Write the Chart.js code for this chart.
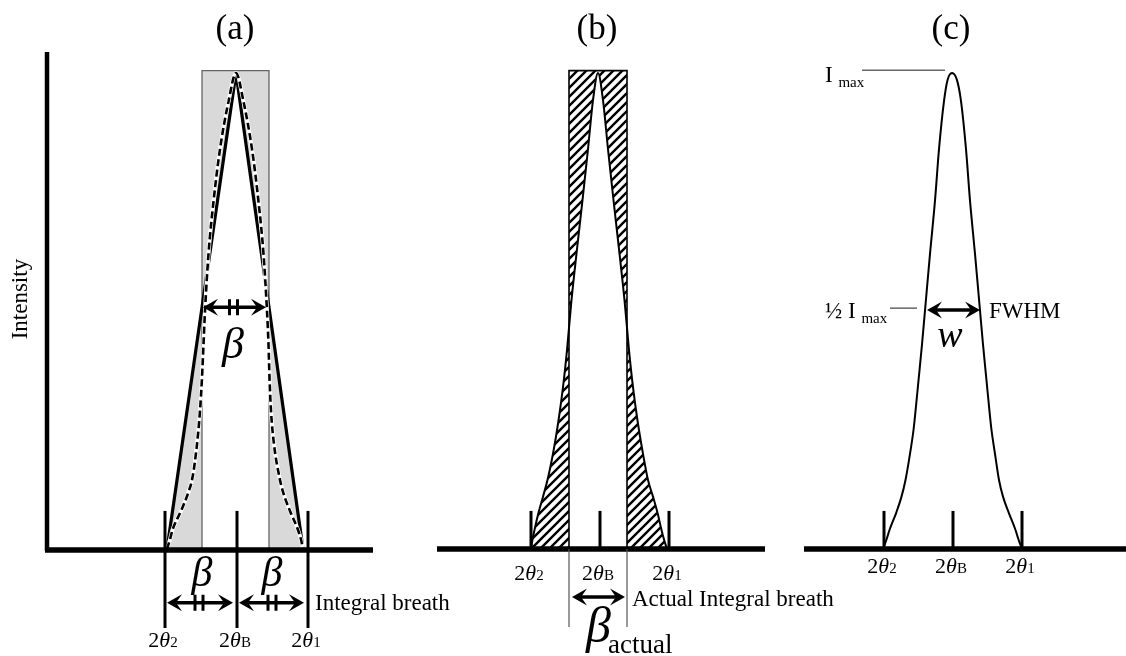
<!DOCTYPE html>
<html>
<head>
<meta charset="utf-8">
<title>Integral breadth</title>
<script src="https://cdn.jsdelivr.net/npm/chart.js@4.4.0/dist/chart.umd.min.js"></script>
<style>
  html, body { margin: 0; padding: 0; background: #fff; }
  #wrap { width: 1126px; height: 656px; }
</style>
</head>
<body>
<div id="wrap"><canvas id="peakChart" width="1126" height="656"></canvas></div>
<script>
// Panel titles and the three 2θ marks under each peak (2θ2, 2θB, 2θ1)
const panelTitles = ['(a)', '(b)', '(c)'];
const tickSubs = ['2', 'B', '1'];

// (a) triangle profile and the dashed bell profile: offset from peak, relative intensity
const triangleOffset = [-69, 0, 67];
const triangleIntensity = [0, 1, 0];
const dashedOffset = [-69, -66, -63.5, -55, -47.5, -43.5, -39, -36, -34, -32.5, -31, -27.5, -22.5, -16, -7.5, 0,
    7.5, 16, 22.5, 27.5, 31, 32.5, 33.5, 35, 38, 43.5, 47, 54, 62, 65, 67];
const dashedIntensity = [0, 0.02, 0.04, 0.08, 0.12, 0.15, 0.22, 0.29, 0.36, 0.43, 0.5, 0.62, 0.73, 0.84, 0.94, 1,
    0.94, 0.84, 0.73, 0.62, 0.5, 0.43, 0.36, 0.29, 0.22, 0.15, 0.12, 0.08, 0.04, 0.02, 0];
const boxA = [-34, 33];

// (b) measured profile and the actual integral breadth box
const profileBOffset = [-67, -65.5, -63.5, -59.5, -55, -50.5, -45, -39.5, -35, -31, -26.5, -21, -15.5, -10, -5, 0,
    5, 10, 15.5, 21, 26.5, 31, 35, 39.5, 45, 50, 55, 59.5, 63.5, 66, 69];
const profileBIntensity = [0, 0.02, 0.04, 0.076, 0.11, 0.145, 0.2, 0.27, 0.34, 0.418, 0.523, 0.63, 0.733, 0.84, 0.943, 1,
    0.943, 0.84, 0.733, 0.63, 0.523, 0.418, 0.34, 0.27, 0.2, 0.145, 0.11, 0.076, 0.04, 0.02, 0];
const boxB = [-29, 29];

// (c) profile used for FWHM
const profileCOffset = [-69, -65.5, -62.5, -56, -50.5, -46.5, -42, -38.5, -36, -33.5, -30, -27, -22, -17, -13, -8, -4.5, 0,
    5, 9, 14, 18, 23, 28, 31, 34.5, 37, 39.5, 43, 47, 51, 57, 63.5, 66.5, 70];
const profileCIntensity = [0, 0.02, 0.04, 0.075, 0.11, 0.145, 0.2, 0.25, 0.3, 0.354, 0.43, 0.501, 0.62, 0.732, 0.84, 0.941, 0.985, 1,
    0.985, 0.941, 0.84, 0.732, 0.62, 0.501, 0.43, 0.354, 0.3, 0.25, 0.2, 0.145, 0.11, 0.075, 0.04, 0.02, 0];

const boxTop = 1.005;

// layout (x in figure units, y in intensity units)
const panelPeak = [236, 598, 952];
const tickOffsets = [[-71, 1, 72], [-67, 2, 71], [-68, 1, 70]];
const baseSpan = [[45, 373], [437, 765], [804, 1126]];

const SERIF = '"Liberation Serif", "Times New Roman", serif';

function toPoints(peak, offsets, values) {
    return offsets.map((o, i) => ({ x: peak + o, y: values[i] }));
}

function boxPoints(peak, box) {
    return [
        { x: peak + box[0], y: 0 },
        { x: peak + box[0], y: boxTop },
        { x: peak + box[1], y: boxTop },
        { x: peak + box[1], y: 0 }
    ];
}

function hatchPattern(ctx) {
    const c = document.createElement('canvas');
    c.width = 9; c.height = 9;
    const g = c.getContext('2d');
    g.strokeStyle = '#000';
    g.lineWidth = 2.4;
    g.beginPath();
    g.moveTo(-3, 12); g.lineTo(12, -3);
    g.moveTo(-3, 3); g.lineTo(3, -3);
    g.moveTo(6, 12); g.lineTo(12, 6);
    g.stroke();
    return ctx.createPattern(c, 'repeat');
}

// text made of several runs (for subscripts / italics)
function drawParts(ctx, parts, x, y, align) {
    let total = 0;
    parts.forEach(p => { ctx.font = p[1]; total += ctx.measureText(p[0]).width; });
    let cx = align === 'center' ? x - total / 2 : x;
    ctx.textAlign = 'left';
    ctx.textBaseline = 'alphabetic';
    parts.forEach(p => {
        ctx.font = p[1];
        ctx.fillText(p[0], cx, y + (p[2] || 0));
        cx += ctx.measureText(p[0]).width;
    });
}

function arrowHead(ctx, x, y, dir) {
    const L = 15, W = 8.5, notch = 9;
    ctx.beginPath();
    ctx.moveTo(x, y);
    ctx.lineTo(x - dir * L, y - W);
    ctx.lineTo(x - dir * notch, y);
    ctx.lineTo(x - dir * L, y + W);
    ctx.closePath();
    ctx.fill();
}

function doubleArrow(ctx, x0, x1, y) {
    ctx.lineWidth = 3.5;
    ctx.beginPath();
    ctx.moveTo(x0 + 6, y);
    ctx.lineTo(x1 - 6, y);
    ctx.stroke();
    arrowHead(ctx, x0, y, -1);
    arrowHead(ctx, x1, y, 1);
}

function doubleTick(ctx, x, y) {
    ctx.lineWidth = 3;
    ctx.beginPath();
    ctx.moveTo(x - 4, y - 8); ctx.lineTo(x - 4, y + 8);
    ctx.moveTo(x + 4, y - 8); ctx.lineTo(x + 4, y + 8);
    ctx.stroke();
}

function vline(ctx, x, y0, y1, w, color) {
    ctx.strokeStyle = color || '#000';
    ctx.lineWidth = w;
    ctx.beginPath();
    ctx.moveTo(x, y0);
    ctx.lineTo(x, y1);
    ctx.stroke();
}

function hline(ctx, x0, x1, y, w, color) {
    ctx.strokeStyle = color || '#000';
    ctx.lineWidth = w;
    ctx.beginPath();
    ctx.moveTo(x0, y);
    ctx.lineTo(x1, y);
    ctx.stroke();
}

const figurePlugin = {
    id: 'figure',
    beforeDatasetsDraw(chart) {
        const ctx = chart.ctx;
        const X = v => chart.scales.x.getPixelForValue(v);
        const Y = v => chart.scales.y.getPixelForValue(v);

        // (a) grey where box and triangle do not overlap
        ctx.save();
        ctx.beginPath();
        chart.getDatasetMeta(0).dataset.path(ctx);
        ctx.closePath();
        const a0 = X(panelPeak[0] + boxA[0]), a1 = X(panelPeak[0] + boxA[1]);
        ctx.rect(a0, Y(boxTop), a1 - a0, Y(0) - Y(boxTop));
        ctx.fillStyle = '#d9d9d9';
        ctx.fill('evenodd');

        // (b) hatched where box and profile do not overlap
        ctx.beginPath();
        chart.getDatasetMeta(4).dataset.path(ctx);
        ctx.closePath();
        const b0 = X(panelPeak[1] + boxB[0]), b1 = X(panelPeak[1] + boxB[1]);
        ctx.rect(b0, Y(boxTop), b1 - b0, Y(0) - Y(boxTop));
        ctx.fillStyle = hatchPattern(ctx);
        ctx.fill('evenodd');
        ctx.restore();
    },
    afterDatasetsDraw(chart) {
        const ctx = chart.ctx;
        const X = v => chart.scales.x.getPixelForValue(v);
        const Y = v => chart.scales.y.getPixelForValue(v);
        ctx.save();
        ctx.fillStyle = '#000';
        ctx.strokeStyle = '#000';
        ctx.lineCap = 'butt';

        // titles
        panelTitles.forEach((t, i) => {
            drawParts(ctx, [[t, '35px ' + SERIF]], X(panelPeak[i] - 1), Y(1.071), 'center');
        });

        // intensity axis of (a)
        vline(ctx, X(47), Y(1.044), Y(0) + 2, 4.5);
        ctx.save();
        ctx.translate(X(27), Y(0.525));
        ctx.rotate(-Math.PI / 2);
        drawParts(ctx, [['Intensity', '23px ' + SERIF]], 0, 0, 'center');
        ctx.restore();

        // baselines
        baseSpan.forEach((s, i) => hline(ctx, X(s[0]), X(s[1]), Y(0) + (i === 0 ? 1 : 0), 5.5));

        // 2θ ticks and labels
        const tickBottom = [-0.166, 0, 0];
        const labelY = [-0.206, -0.065, -0.05];
        tickOffsets.forEach((offs, i) => {
            offs.forEach((o, k) => {
                const x = X(panelPeak[i] + o);
                vline(ctx, x, Y(0.08), Y(tickBottom[i]) + (i === 0 ? 0 : 1), 3);
                drawParts(ctx, [
                    ['2', '22px ' + SERIF],
                    ['θ', 'italic 22px ' + SERIF],
                    [tickSubs[k], '15px ' + SERIF]
                ], x - 2, Y(labelY[i]), 'center');
            });
        });

        // ---- panel (a) annotations
        const pa = panelPeak[0];
        doubleArrow(ctx, X(pa - 33), X(pa + 30), Y(0.508));
        doubleTick(ctx, X(pa - 2.5), Y(0.508));
        drawParts(ctx, [['β', 'italic 44px ' + SERIF]], X(pa - 3), Y(0.401), 'center');

        const ta = tickOffsets[0];
        const yLow = Y(-0.113);
        doubleArrow(ctx, X(pa + ta[0] + 2), X(pa + ta[1] - 4), yLow);
        doubleArrow(ctx, X(pa + ta[1] + 2), X(pa + ta[2] - 4), yLow);
        doubleTick(ctx, X(pa - 37), yLow);
        doubleTick(ctx, X(pa + 36), yLow);
        drawParts(ctx, [['β', 'italic 42px ' + SERIF]], X(pa - 34), Y(-0.078), 'center');
        drawParts(ctx, [['β', 'italic 42px ' + SERIF]], X(pa + 36), Y(-0.078), 'center');
        drawParts(ctx, [['Integral breath', '23px ' + SERIF]], X(pa + 79), Y(-0.128), 'left');

        // ---- panel (b) annotations
        const pb = panelPeak[1];
        vline(ctx, X(pb + boxB[0]), Y(0), Y(-0.164), 1.2, '#555');
        vline(ctx, X(pb + boxB[1]), Y(0), Y(-0.164), 1.2, '#555');
        ctx.strokeStyle = '#000';
        doubleArrow(ctx, X(pb - 26), X(pb + 27), Y(-0.101));
        drawParts(ctx, [['Actual Integral breath', '23px ' + SERIF]], X(pb + 34), Y(-0.12), 'left');
        drawParts(ctx, [['β', 'italic 50px ' + SERIF]], X(pb - 12), Y(-0.195), 'left');
        drawParts(ctx, [['actual', '27px ' + SERIF]], X(pb + 10), Y(-0.218), 'left');

        // ---- panel (c) annotations
        const pc = panelPeak[2];
        hline(ctx, X(pc - 90), X(pc - 7), Y(1.006), 1.5, '#666');
        hline(ctx, X(pc - 62), X(pc - 35), Y(0.506), 1.5, '#666');
        ctx.strokeStyle = '#000';
        drawParts(ctx, [['I ', '23px ' + SERIF], ['max', '15px ' + SERIF, 5]], X(pc - 127), Y(0.981), 'left');
        drawParts(ctx, [['½ I ', '23px ' + SERIF], ['max', '15px ' + SERIF, 5]], X(pc - 127), Y(0.485), 'left');
        doubleArrow(ctx, X(pc - 25), X(pc + 28), Y(0.502));
        drawParts(ctx, [['FWHM', '23px ' + SERIF]], X(pc + 37), Y(0.485), 'left');
        drawParts(ctx, [['w', 'italic 38px ' + SERIF]], X(pc - 2), Y(0.424), 'center');

        ctx.restore();
    }
};

const line = (data, color, width, extra) => Object.assign({
    data: data,
    borderColor: color,
    borderWidth: width,
    borderJoinStyle: 'bevel',
    pointRadius: 0,
    fill: false,
    tension: 0
}, extra || {});

new Chart(document.getElementById('peakChart'), {
    type: 'line',
    data: {
        datasets: [
            line(toPoints(panelPeak[0], triangleOffset, triangleIntensity), '#000', 3.2, { order: 2 }),
            line(toPoints(panelPeak[0], dashedOffset, dashedIntensity), '#fff', 4, { order: 1, cubicInterpolationMode: 'monotone' }),
            line(toPoints(panelPeak[0], dashedOffset, dashedIntensity), '#000', 2.6, { order: 0, cubicInterpolationMode: 'monotone', borderDash: [7, 3.5] }),
            line(boxPoints(panelPeak[0], boxA), '#666', 1.3, { order: 3, borderJoinStyle: 'miter' }),
            line(toPoints(panelPeak[1], profileBOffset, profileBIntensity), '#000', 2, { order: 0, cubicInterpolationMode: 'monotone' }),
            line(boxPoints(panelPeak[1], boxB), '#000', 1.6, { order: 1, borderJoinStyle: 'miter' }),
            line(toPoints(panelPeak[2], profileCOffset, profileCIntensity), '#000', 2, { order: 0, cubicInterpolationMode: 'monotone' })
        ]
    },
    options: {
        responsive: false,
        animation: false,
        devicePixelRatio: 1,
        events: [],
        layout: { padding: 0 },
        plugins: {
            legend: { display: false },
            tooltip: { enabled: false }
        },
        scales: {
            x: { type: 'linear', min: 0, max: 1126, display: false },
            y: { type: 'linear', min: -0.2248, max: 1.1534, display: false }
        }
    },
    plugins: [figurePlugin]
});
</script>
</body>
</html>
